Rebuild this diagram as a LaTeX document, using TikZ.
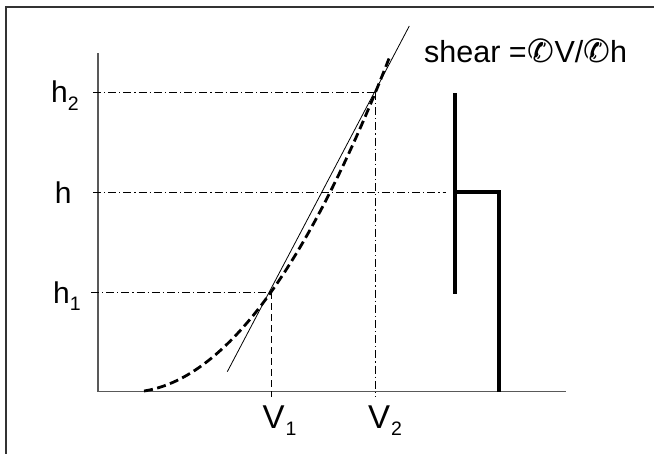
\documentclass[tikz,border=0pt]{standalone}
\usepackage{fontspec}
\setmainfont{Liberation Sans}
\newfontfamily\dvfont{DejaVu Sans}
\begin{document}
\begin{tikzpicture}[x=1pt,y=-1pt,
  frame/.style={draw=black!80,line width=1.2pt},
  axisline/.style={draw=black!65,line width=1.5pt},
  guide/.style={line width=0.8pt,dash pattern=on 8pt off 3pt on 1.2pt off 3pt},
  guideb/.style={line width=0.8pt,dash pattern=on 7pt off 4pt},
  curveline/.style={line width=2.8pt,dash pattern=on 9pt off 4.5pt},
  tangent/.style={line width=0.8pt},
  heavy/.style={line width=4pt,line join=miter},
  lab/.style={inner sep=0pt,anchor=base west,font=\fontsize{30}{36}\selectfont},
  labv/.style={inner sep=0pt,anchor=base west,font=\fontsize{33}{38}\selectfont}]
\useasboundingbox (0,0) rectangle (654,453);
\clip (0,0) rectangle (654,453);
\draw[frame] (6,7) rectangle (680,480);
% axes
\coordinate (O) at (98,391.5);
\coordinate (Ytop) at (98,53);
\coordinate (Xend) at (566,391.5);
\draw[axisline] (Ytop) -- (O) -- (Xend);
% key points
\coordinate (P1) at (271,292.3);
\coordinate (P2) at (375.5,92);
\coordinate (H2l) at (93,92);
\coordinate (Hl) at (93,192.3);
\coordinate (Hr) at (446,192.3);
\coordinate (H1l) at (91,292.3);
\coordinate (V1b) at (271,397);
\coordinate (V2b) at (375.5,397);
% guide lines
\draw[guide] (H2l) -- (P2);
\draw[guide] (Hl) -- (Hr);
\draw[guide] (H1l) -- (P1);
\draw[guideb] (P1) -- (V1b);
\draw[guide] (P2) -- (V2b);
% tangent line
\coordinate (Ta) at (227.3,371.7);
\coordinate (Tb) at (409.3,26);
\draw[tangent] (Ta) -- (Tb);
% dashed curve (parabola through (144,391), P1, P2)
\draw[curveline] plot[domain=0:245,samples=90,smooth] ({144+\x},{391-0.157*\x-0.0049*\x*\x});
% heavy bracket
\coordinate (Ba) at (455,93);
\coordinate (Bb) at (455,293.5);
\coordinate (Bc) at (457,192.3);
\coordinate (Bd) at (499.3,192.3);
\coordinate (Be) at (499.3,391.5);
\draw[heavy] (Ba) -- (Bb);
\draw[heavy] (Bc) -- (Bd) -- (Be);
% labels
\node[lab] (h2) at (51,102.7) {h\raisebox{-7.5pt}{\fontsize{19.5}{20}\selectfont 2}};
\node[lab] (h) at (54.7,203.3) {h};
\node[lab] (h1) at (53,303.3) {h\raisebox{-7.5pt}{\fontsize{19.5}{20}\selectfont 1}};
\node[labv] (v1) at (262.5,428.3) {V\kern1pt\raisebox{-7.5pt}{\fontsize{19.5}{20}\selectfont 1}};
\node[labv] (v2) at (368,428.3) {V\kern1pt\raisebox{-7.5pt}{\fontsize{19.5}{20}\selectfont 2}};
\node[lab,font=\fontsize{30.5}{34}\selectfont] (shear) at (424,62.5) {shear =\kern1pt{\dvfont\fontsize{32}{34}\selectfont ✆}V/{\dvfont\fontsize{32}{34}\selectfont ✆}h};
\end{tikzpicture}
\end{document}
